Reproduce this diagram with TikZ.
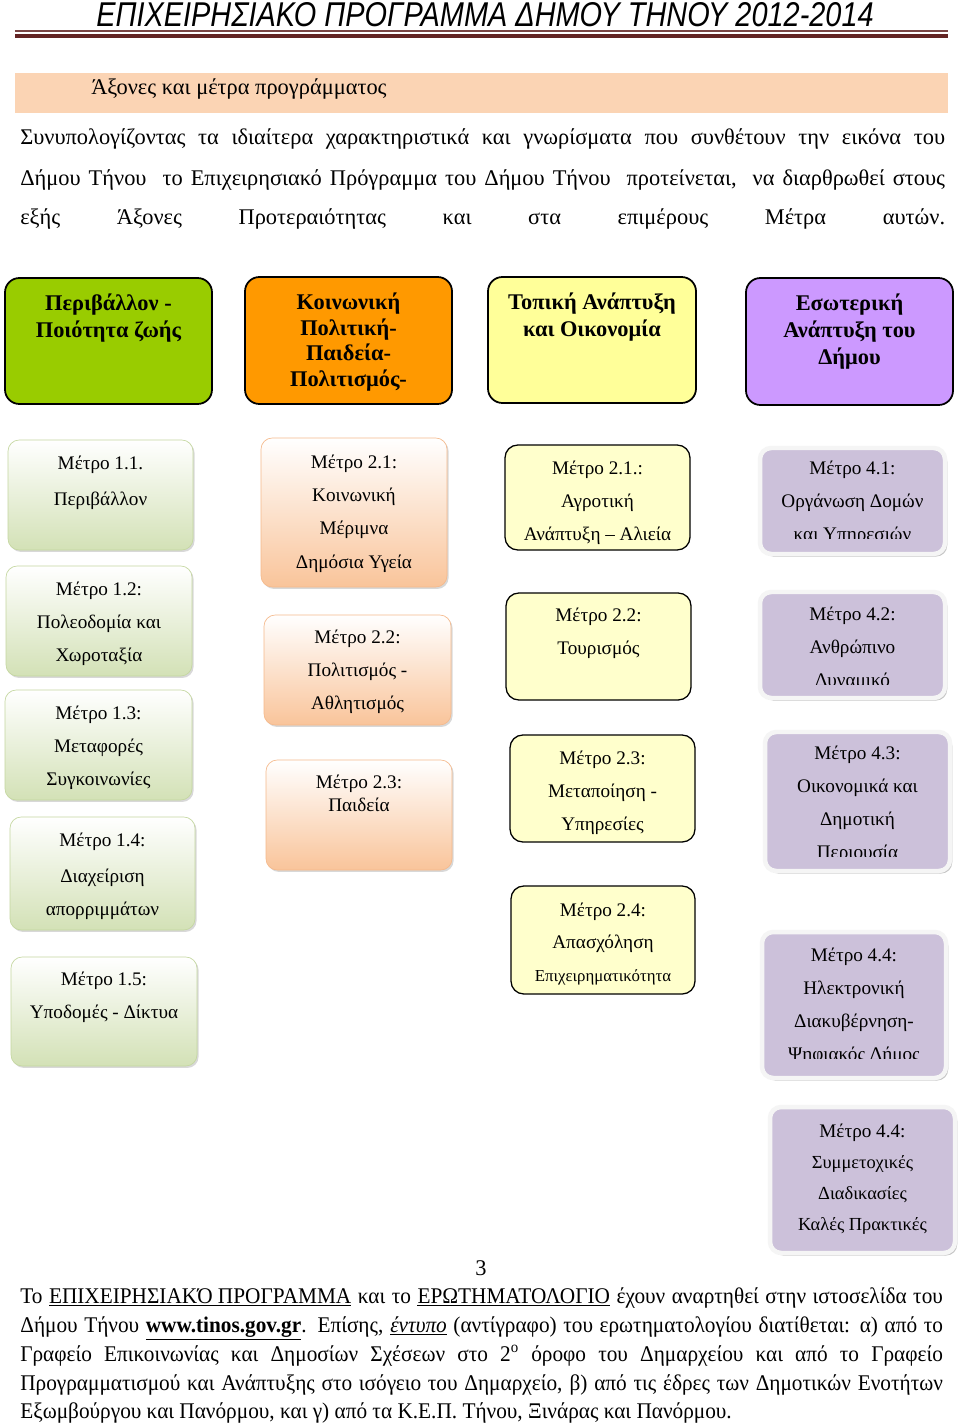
\documentclass[tikz,border=0pt]{standalone}
\usepackage{fontspec}
\setmainfont{Liberation Serif}
\newfontfamily\headfont{Liberation Sans}
\usepackage{xcolor}
\usepackage{graphicx}
\usepackage{tikz}
\usetikzlibrary{positioning,fit,shadows}

\definecolor{headline}{HTML}{632423}
\definecolor{peach}{HTML}{FBD4B4}
\definecolor{axgreen}{HTML}{99CC00}
\definecolor{axorange}{HTML}{FF9900}
\definecolor{axyellow}{HTML}{FFFF99}
\definecolor{axpurple}{HTML}{CC99FF}
\definecolor{mgreen}{HTML}{D3E1B6}
\definecolor{mgreenline}{HTML}{C4D79F}
\definecolor{morange}{HTML}{F9C49A}
\definecolor{moraline}{HTML}{F5B98B}
\definecolor{myellow}{HTML}{FFFFCC}
\definecolor{mpurple}{HTML}{CCC1DA}

\begin{document}
\begin{tikzpicture}[
    x = 0.625pt, y = -0.625pt,
    axisbox/.style = {draw, line width = 1.1pt, rounded corners = 9pt, inner sep = 0pt},
    axistext/.style = {font = \fontsize{14}{16.9}\selectfont\bfseries, align = center, inner sep = 0pt},
    mtext/.style = {font = \fontsize{12}{20.6}\selectfont, align = center, inner sep = 0pt},
    greenbox/.style = {draw = mgreenline, top color = white, bottom color = mgreen,
        rounded corners = 7pt, inner sep = 0pt,
        drop shadow = {shadow xshift = 1pt, shadow yshift = -1.2pt, opacity = 0.3}},
    orangebox/.style = {draw = moraline, top color = white, bottom color = morange,
        rounded corners = 7pt, inner sep = 0pt,
        drop shadow = {shadow xshift = 1pt, shadow yshift = -1.2pt, opacity = 0.3}},
    yellowbox/.style = {draw, line width = 0.8pt, fill = myellow, rounded corners = 8pt, inner sep = 0pt},
    purplebox/.style = {draw = black!4, line width = 2.8pt, fill = mpurple,
        rounded corners = 7pt, inner sep = 0pt,
        drop shadow = {shadow xshift = 1.4pt, shadow yshift = -1.6pt, opacity = 0.45}},
    bodyline/.style = {anchor = base west, inner sep = 0pt, font = \fontsize{14}{17}\selectfont},
    footline/.style = {anchor = base west, inner sep = 0pt, font = \fontsize{14}{16}\selectfont}
    ]

    \useasboundingbox (0,0) rectangle (960,1423);
    \fill[white] (0,0) rectangle (960,1423);

    % page header
    \node[anchor = base, inner sep = 0pt] (head) at (485,27)
        {\headfont\itshape\fontsize{21.5}{26}\selectfont\scalebox{0.84}[1]{ΕΠΙΧΕΙΡΗΣΙΑΚΟ ΠΡΟΓΡΑΜΜΑ ΔΗΜΟΥ ΤΗΝΟΥ 2012-2014}};
    \draw[headline!85, line width = 1.2pt] (15,31) -- (948,31);
    \draw[headline, line width = 3pt] (15,36) -- (948,36);

    % title bar
    \node[fill = peach, inner sep = 0pt, fit = {(15,73) (948,113)}] (bar) {};
    \node[bodyline] (bartext) at (91,95) {Άξονες και μέτρα προγράμματος};

    % intro paragraph
    \node[bodyline] (p1) at (20,145)
        {\makebox[578pt][s]{Συνυπολογίζοντας τα ιδιαίτερα χαρακτηριστικά και γνωρίσματα που συνθέτουν την εικόνα του}};
    \node[bodyline] (p2) at (20,185)
        {\makebox[578pt][s]{Δήμου Τήνου\ \ το Επιχειρησιακό Πρόγραμμα του Δήμου Τήνου\ \ προτείνεται,\ \ να διαρθρωθεί στους}};
    \node[bodyline] (p3) at (20,224)
        {\makebox[578pt][s]{εξής Άξονες Προτεραιότητας και στα επιμέρους Μέτρα αυτών.}};

    % axes
    \node[axisbox, fill = axgreen, fit = {(5,278) (212,404)}] (ax1) {};
    \node[axistext, below = 10pt of ax1.north] {Περιβάλλον -\\Ποιότητα ζωής};

    \node[axisbox, fill = axorange, fit = {(245,277) (452,404)}] (ax2) {};
    \node[axistext, below = 10pt of ax2.north,
          font = \fontsize{14}{16.2}\selectfont\bfseries] {Κοινωνική\\Πολιτική-\\Παιδεία-\\Πολιτισμός-};

    \node[axisbox, fill = axyellow, fit = {(488,277) (696,403)}] (ax3) {};
    \node[axistext, below = 10pt of ax3.north] {Τοπική Ανάπτυξη\\και Οικονομία};

    \node[axisbox, fill = axpurple, fit = {(746,278) (953,405)}] (ax4) {};
    \node[axistext, below = 10pt of ax4.north] {Εσωτερική\\Ανάπτυξη του\\Δήμου};

    % axis 1 measures
    \node[greenbox, fit = {(8,440) (193,550)}] (m11) {};
    \node[mtext, below = 10pt of m11.north] {Μέτρο 1.1.\\[2pt]Περιβάλλον};

    \node[greenbox, fit = {(6,566) (192,676)}] (m12) {};
    \node[mtext, below = 10pt of m12.north] {Μέτρο 1.2:\\Πολεοδομία και\\Χωροταξία};

    \node[greenbox, fit = {(5,690) (192,800)}] (m13) {};
    \node[mtext, below = 10pt of m13.north] {Μέτρο 1.3:\\Μεταφορές\\Συγκοινωνίες};

    \node[greenbox, fit = {(10,817) (195,930)}] (m14) {};
    \node[mtext, below = 10pt of m14.north] {Μέτρο 1.4:\\[2pt]Διαχείριση\\απορριμμάτων};

    \node[greenbox, fit = {(11,957) (197,1066)}] (m15) {};
    \node[mtext, below = 9.5pt of m15.north] {Μέτρο 1.5:\\Υποδομές - Δίκτυα};

    % axis 2 measures
    \node[orangebox, fit = {(261,438) (447,587)}] (m21) {};
    \node[mtext, below = 10.5pt of m21.north] {Μέτρο 2.1:\\Κοινωνική\\Μέριμνα\\[1pt]Δημόσια Υγεία};

    \node[orangebox, fit = {(264,615) (451,725)}] (m22) {};
    \node[mtext, below = 9.5pt of m22.north] {Μέτρο 2.2:\\Πολιτισμός -\\Αθλητισμός};

    \node[orangebox, fit = {(266,760) (452,870)}] (m23) {};
    \node[mtext, below = 9.5pt of m23.north] {Μέτρο 2.3:\\[-6.2pt]Παιδεία};

    % axis 3 measures
    \node[yellowbox, fit = {(505,445) (690,550)}] (t21) {};
    \node[mtext, below = 10pt of t21.north] {Μέτρο 2.1.:\\Αγροτική\\Ανάπτυξη – Αλιεία};

    \node[yellowbox, fit = {(506,593) (691,700)}] (t22) {};
    \node[mtext, below = 9.5pt of t22.north] {Μέτρο 2.2:\\Τουρισμός};

    \node[yellowbox, fit = {(510,735) (695,842)}] (t23) {};
    \node[mtext, below = 10pt of t23.north] {Μέτρο 2.3:\\Μεταποίηση -\\Υπηρεσίες};

    \node[yellowbox, fit = {(511,886) (695,994)}] (t24) {};
    \node[mtext, below = 10.5pt of t24.north] {Μέτρο 2.4:\\Απασχόληση\\{\fontsize{10.5}{12}\selectfont Επιχειρηματικότητα}};

    % axis 4 measures (texts cut at the bottom as printed)
    \node[purplebox, fit = {(760,448) (945,554)}] (e41) {};
    \begin{scope}
        \clip (760,448) rectangle (945,538);
        \node[mtext, below = 9.5pt of e41.north] {Μέτρο 4.1:\\Οργάνωση Δομών\\και Υπηρεσιών};
    \end{scope}

    \node[purplebox, fit = {(760,592) (945,698)}] (e42) {};
    \begin{scope}
        \clip (760,592) rectangle (945,684);
        \node[mtext, below = 10.5pt of e42.north] {Μέτρο 4.2:\\Ανθρώπινο\\Δυναμικό};
    \end{scope}

    \node[purplebox, fit = {(765,732) (950,871)}] (e43) {};
    \begin{scope}
        \clip (765,732) rectangle (950,856);
        \node[mtext, below = 10pt of e43.north] {Μέτρο 4.3:\\Οικονομικά και\\Δημοτική\\Περιουσία};
    \end{scope}

    \node[purplebox, fit = {(762,932) (946,1078)}] (e44) {};
    \begin{scope}
        \clip (762,932) rectangle (946,1058);
        \node[mtext, below = 11pt of e44.north] {Μέτρο 4.4:\\Ηλεκτρονική\\Διακυβέρνηση-\\Ψηφιακός Δήμος};
    \end{scope}

    \node[purplebox, fit = {(770,1107) (955,1253)}] (e45) {};
    \node[mtext, below = 11.5pt of e45.north,
          font = \fontsize{11.5}{19.4}\selectfont] {{\fontsize{12}{19.4}\selectfont Μέτρο 4.4:}\\Συμμετοχικές\\Διαδικασίες\\Καλές Πρακτικές};

    % page number and closing paragraph
    \node[anchor = base, inner sep = 0pt, font = \fontsize{14}{16}\selectfont] (pageno) at (481,1275) {3};

    \node[footline] (q1) at (20,1303)
        {\scalebox{0.95}[1]{\makebox[607pt][s]{Το \underline{ΕΠΙΧΕΙΡΗΣΙΑΚΌ ΠΡΟΓΡΑΜΜΑ} και το \underline{ΕΡΩΤΗΜΑΤΟΛΟΓΙΟ} έχουν αναρτηθεί στην ιστοσελίδα του}}};
    \node[footline] (q2) at (20,1332)
        {\scalebox{0.95}[1]{\makebox[607pt][s]{Δήμου Τήνου \underline{\textbf{www.tinos.gov.gr}}. Επίσης, \underline{\textit{έντυπο}} (αντίγραφο) του ερωτηματολογίου διατίθεται: α) από το}}};
    \node[footline] (q3) at (20,1361)
        {\scalebox{0.95}[1]{\makebox[607pt][s]{Γραφείο Επικοινωνίας και Δημοσίων Σχέσεων στο 2\textsuperscript{ο} όροφο του Δημαρχείου και από το Γραφείο}}};
    \node[footline] (q4) at (20,1390)
        {\scalebox{0.95}[1]{\makebox[607pt][s]{Προγραμματισμού και Ανάπτυξης στο ισόγειο του Δημαρχείο, β) από τις έδρες των Δημοτικών Ενοτήτων}}};
    \node[footline] (q5) at (20,1418)
        {\scalebox{0.95}[1]{Εξωμβούργου και Πανόρμου, και γ) από τα Κ.Ε.Π. Τήνου, Ξινάρας και Πανόρμου.}};

\end{tikzpicture}
\end{document}
